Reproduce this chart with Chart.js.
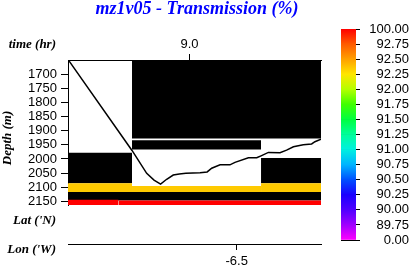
<!DOCTYPE html>
<html>
<head>
<meta charset="utf-8">
<title>mz1v05 - Transmission (%)</title>
<script src="https://cdn.jsdelivr.net/npm/chart.js@4.4.1/dist/chart.umd.min.js"></script>
<style>
  body { margin: 0; background: #fff; }
  #wrap { position: relative; width: 409px; height: 266px; }
  #wrap canvas { position: absolute; top: 0; }
</style>
</head>
<body>
<div id="wrap">
  <canvas id="section" width="409" height="266" style="left:0"></canvas>
  <canvas id="colorbar" width="79" height="266" style="left:330px"></canvas>
</div>
<script>
// ---- axis ticks ----
const timeTicks = [9.0];
const lonTicks = [-6.5];
const depthTicks = [1700, 1750, 1800, 1850, 1900, 1950, 2000, 2050, 2100, 2150];

// ---- instrument path (time in hr, depth in m) ----
const pathTime = [8.524, 8.773, 8.831, 8.860, 8.886, 8.910, 8.936, 8.960, 8.986, 9.042, 9.070, 9.088,
                  9.121, 9.160, 9.180, 9.233, 9.266, 9.283, 9.312, 9.358, 9.384, 9.411, 9.450, 9.483, 9.496, 9.520];
const pathDepth = [1653, 1970, 2051, 2075, 2089, 2072, 2057, 2053, 2051, 2049, 2046, 2033,
                   2021, 2021, 2012, 1996, 1996, 1989, 1977, 1978, 1969, 1957, 1950, 1947, 1939, 1930];

// ---- section cells (value null = no data, drawn black) ----
const cellTimeStart   = [8.773, 8.773, 8.520, 9.283, 8.520, 8.773, 9.283, 8.520, 8.520, 8.720];
const cellTimeEnd     = [9.520, 9.283, 8.773, 9.520, 8.773, 9.283, 9.520, 9.520, 8.720, 9.520];
const cellDepthTop    = [1650, 1934, 1978, 1997, 2086, 2096, 2086, 2117, 2144, 2147];
const cellDepthBottom = [1928, 1967, 2086, 2086, 2117, 2117, 2117, 2147, 2163, 2163];
const cellValue       = [null, null, null, null, 92.35, 92.35, 92.35, null, 100, 100];

// ---- colour bar ----
const barLabels = ["100.00", "92.75", "92.50", "92.25", "92.00", "91.75", "91.50", "91.25",
                   "91.00", "90.75", "90.50", "90.25", "90.00", "89.75", "0.00"];
const barColors = ["#ff0000", "#ff5a00", "#ffa000", "#ffe600", "#b4ff00", "#40ff00", "#00ff40", "#00ff9a",
                   "#00f0e0", "#00b4ff", "#0050ff", "#1a00ff", "#5000ff", "#a000ff", "#ff00ff"];

Chart.defaults.font.family = "'Liberation Sans', Arial, sans-serif";
Chart.defaults.font.size = 13;
Chart.defaults.color = "#000";

function hexToRgb(h) {
    const n = parseInt(h.slice(1), 16);
    return [n >> 16, (n >> 8) & 255, n & 255];
}

function mix(a, b, f) {
    const A = hexToRgb(a), B = hexToRgb(b);
    return "rgb(" + A.map((c, i) => Math.round(c + (B[i] - c) * f)).join(",") + ")";
}

function colourFor(v) {
    if (v === null) return "#000";
    const vals = barLabels.map(Number);
    for (let k = 0; k < vals.length - 1; k++) {
        if (v <= vals[k] && v >= vals[k + 1]) {
            return mix(barColors[k], barColors[k + 1], (vals[k] - v) / (vals[k] - vals[k + 1]));
        }
    }
    return v > vals[0] ? barColors[0] : barColors[barColors.length - 1];
}

const fixedTicks = list => scale => { scale.ticks = list.map(v => ({ value: v })); };

// ---------------------------------------------------
// SECTION CHART
// ---------------------------------------------------
const cellSets = cellValue.map((v, i) => ({
    data: [{ x: cellTimeStart[i], y: cellDepthTop[i] }, { x: cellTimeEnd[i], y: cellDepthTop[i] }],
    xAxisID: "time",
    yAxisID: "y",
    backgroundColor: colourFor(v),
    borderColor: "transparent",
    borderWidth: 0,
    pointRadius: 0,
    fill: { value: cellDepthBottom[i] },
    order: cellValue.length - i
}));

const pathSet = {
    data: pathTime.map((t, i) => ({ x: t, y: pathDepth[i] })),
    xAxisID: "time",
    yAxisID: "y",
    borderColor: "#000",
    borderWidth: 1.5,
    pointRadius: 0,
    fill: false,
    tension: 0,
    order: 0
};

const sideText = {
    id: "sideText",
    afterDraw(chart) {
        const ctx = chart.ctx;
        ctx.save();
        ctx.font = "bold italic 18px 'Liberation Serif'";
        ctx.fillStyle = "#0000ff";
        ctx.textAlign = "center";
        ctx.textBaseline = "middle";
        ctx.fillText("mz1v05 - Transmission (%)", 197, 9);

        ctx.font = "bold italic 13px 'Liberation Serif'";
        ctx.fillStyle = "#000";
        ctx.textAlign = "right";
        ctx.fillText("time (hr)", 56, 45);
        ctx.fillText("Lat ('N)", 56, 221);
        ctx.fillText("Lon ('W)", 56, 250);

        ctx.translate(8, 138);
        ctx.rotate(-Math.PI / 2);
        ctx.textAlign = "center";
        ctx.fillText("Depth (m)", 0, 0);
        ctx.restore();
    }
};

new Chart(document.getElementById("section"), {
    type: "line",
    data: { datasets: [pathSet, ...cellSets] },
    plugins: [sideText],
    options: {
        responsive: false,
        animation: false,
        devicePixelRatio: 1,
        layout: { padding: { top: 0, left: 0, right: 88, bottom: 0 } },
        plugins: { legend: { display: false }, tooltip: { enabled: false } },
        scales: {
            time: {
                type: "linear", position: "top", min: 8.52, max: 9.52,
                afterBuildTicks: fixedTicks(timeTicks),
                ticks: { padding: 2, maxRotation: 0, autoSkip: false, callback: v => v.toFixed(1) },
                grid: { drawOnChartArea: false, color: "#000", tickLength: 6 },
                border: { color: "#000" },
                afterFit: s => { s.height = 60; }
            },
            y: {
                type: "linear", position: "left", reverse: true, min: 1650, max: 2163,
                afterBuildTicks: fixedTicks(depthTicks),
                ticks: { padding: 4, autoSkip: false, callback: v => String(v) },
                grid: { drawOnChartArea: false, color: "#000", tickLength: 7 },
                border: { color: "#000" },
                afterFit: s => { s.width = 68; }
            },
            lat: {
                type: "linear", position: "bottom", weight: 1, min: 0, max: 1,
                grid: { display: false }, border: { display: false }, ticks: { display: false },
                afterFit: s => { s.height = 39; }
            },
            lon: {
                type: "linear", position: "bottom", weight: 2, min: -6.6, max: -6.45,
                afterBuildTicks: fixedTicks(lonTicks),
                ticks: { padding: 4, maxRotation: 0, autoSkip: false, callback: v => v.toFixed(1) },
                grid: { drawOnChartArea: false, color: "#000", tickLength: 6 },
                border: { color: "#000" },
                afterFit: s => { s.height = 22; }
            }
        }
    }
});

// ---------------------------------------------------
// COLOUR BAR
// ---------------------------------------------------
const nBands = barLabels.length - 1;

function bandGradient(context, d) {
    const chart = context.chart;
    const y = chart.scales.y;
    if (!chart.chartArea || !y) return barColors[nBands - d];
    const g = chart.ctx.createLinearGradient(0, y.getPixelForValue(d), 0, y.getPixelForValue(d + 1));
    g.addColorStop(0, barColors[nBands - d]);
    g.addColorStop(1, barColors[nBands - d - 1]);
    return g;
}

new Chart(document.getElementById("colorbar"), {
    type: "bar",
    data: {
        labels: [""],
        datasets: Array.from({ length: nBands }, (_, d) => ({
            data: [1],
            backgroundColor: ctx => bandGradient(ctx, d),
            borderWidth: 0,
            categoryPercentage: 1,
            barPercentage: 1
        }))
    },
    options: {
        responsive: false,
        animation: false,
        devicePixelRatio: 1,
        layout: { padding: { left: 11, top: 29, bottom: 26, right: 0 } },
        plugins: { legend: { display: false }, tooltip: { enabled: false } },
        scales: {
            x: { display: false, stacked: true },
            y: {
                stacked: true, position: "right", min: 0, max: nBands, z: 1,
                afterBuildTicks: scale => { scale.ticks = barLabels.map((_, k) => ({ value: nBands - k })); },
                ticks: { callback: v => barLabels[nBands - v], crossAlign: "far", padding: 8, autoSkip: false },
                grid: { color: "#000", tickLength: 4 },
                border: { display: false },
                afterFit: s => { s.width = 53; }
            }
        }
    }
});
</script>
</body>
</html>
